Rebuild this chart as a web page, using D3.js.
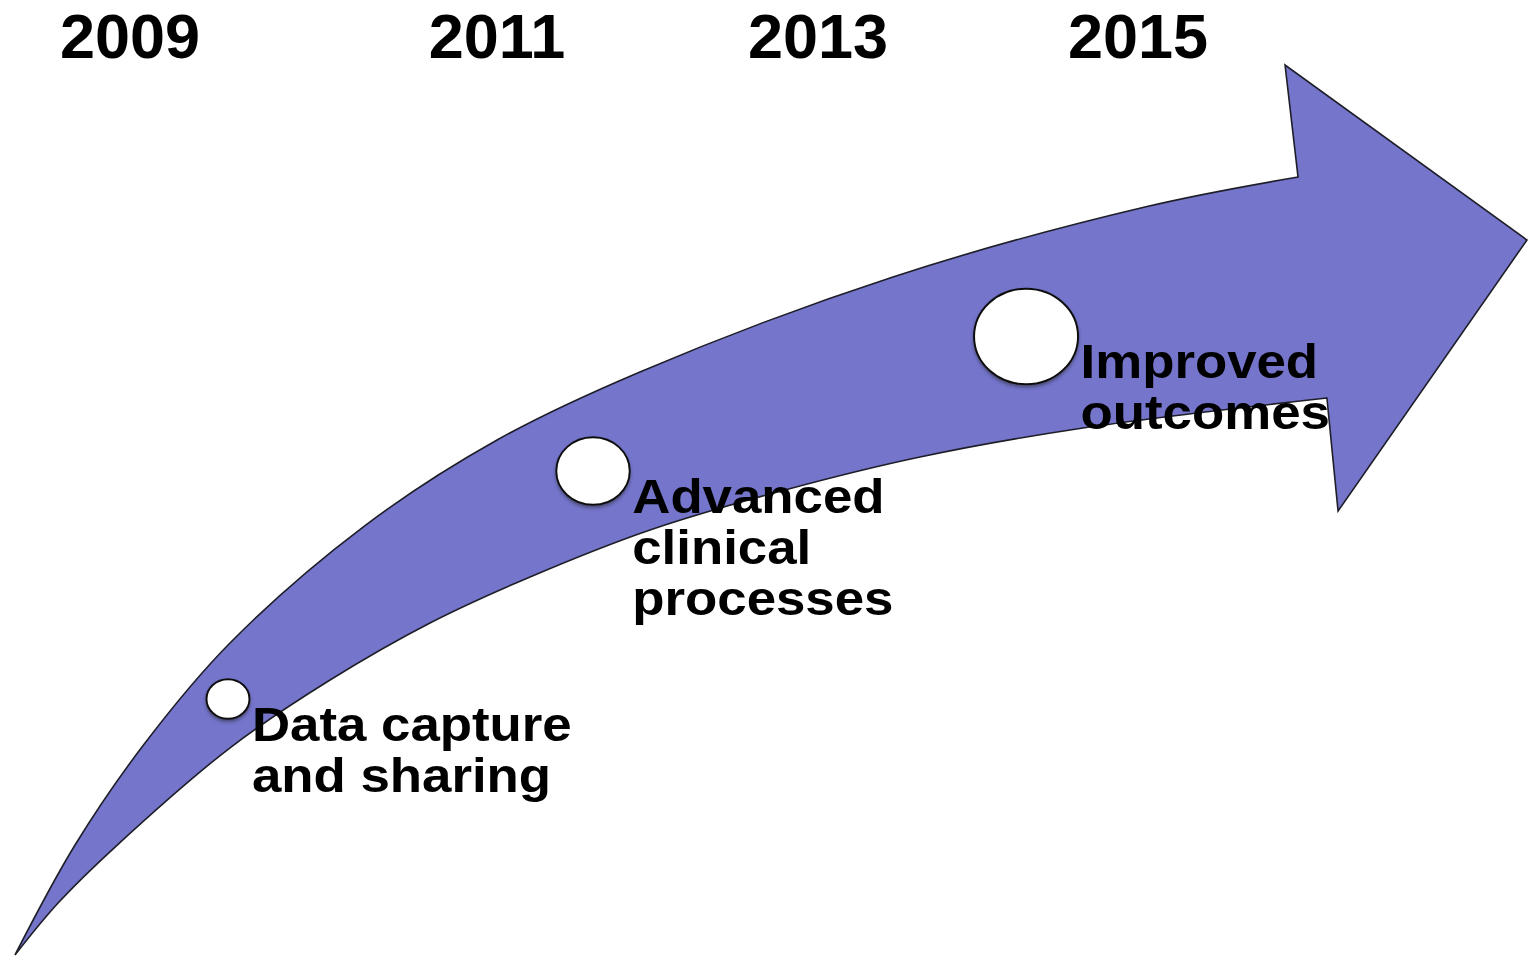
<!DOCTYPE html>
<html>
<head>
<meta charset="utf-8">
<script src="https://cdn.jsdelivr.net/npm/d3@7/dist/d3.min.js"></script>
<style>
  html, body { margin: 0; padding: 0; background: #fff; }
  svg { display: block; }
</style>
</head>
<body>
<svg id="chart" width="1528" height="957"></svg>
<script>
// ---------- data ----------
const years = ["2009", "2011", "2013", "2015"];

// arrow outline in a 0-100 design grid (x: progress, y: maturity)
const arrowUpperX = [0.98, 4.91, 9.49, 15.05, 23.76, 32.53, 41.88, 58.44, 74.93, 84.95];
const arrowUpperY = [0.21, 11.70, 22.36, 32.81, 44.93, 54.02, 61.13, 71.06, 78.37, 81.50];
const arrowLowerX = [0.98, 3.80, 7.53, 15.12, 21.60, 28.14, 34.69, 42.54, 51.37, 60.21, 70.88, 86.84];
const arrowLowerY = [0.21, 5.64, 11.49, 21.94, 28.94, 34.90, 39.71, 44.62, 48.80, 52.25, 55.28, 58.41];
const arrowHeadX = [84.10, 99.93, 87.57];
const arrowHeadY = [93.21, 74.92, 46.60];

// milestones
const milestoneLines = [
  ["Data capture", "and sharing"],
  ["Advanced", "clinical", "processes"],
  ["Improved", "outcomes"]
];
const milestoneX = [14.92, 38.81, 67.15];
const milestoneY = [26.96, 50.78, 64.84];
const milestoneStage = [1, 2, 3];

// ---------- layout ----------
const W = 1528, H = 957;
const svg = d3.select("#chart");

const sx = d3.scaleLinear().domain([0, 100]).range([0, W]);
const sy = d3.scaleLinear().domain([0, 100]).range([H, 0]);
const yearX = d3.scaleOrdinal().domain(years).range([130, 497, 818, 1138]);
const rScale = d3.scaleLinear().domain([1, 3]).range([21.5, 52]);

const defs = svg.append("defs");
const f = defs.append("filter").attr("id", "shadow")
  .attr("x", "-30%").attr("y", "-30%").attr("width", "160%").attr("height", "160%");
f.append("feDropShadow").attr("dx", 0).attr("dy", 2.5).attr("stdDeviation", 1.6)
  .attr("flood-color", "#303040").attr("flood-opacity", 0.55);

// ---------- arrow ----------
const line = d3.line().x(d => sx(d[0])).y(d => sy(d[1])).curve(d3.curveCatmullRom.alpha(0.5));
const upper = arrowUpperX.map((x, i) => [x, arrowUpperY[i]]);
const lower = arrowLowerX.map((x, i) => [x, arrowLowerY[i]]).reverse();
const head = arrowHeadX.map((x, i) => [x, arrowHeadY[i]]);

let d = line(upper);
head.forEach(p => { d += "L" + sx(p[0]) + "," + sy(p[1]); });
d += line(lower).replace(/^M/, "L") + "Z";

svg.append("path")
  .attr("d", d)
  .attr("fill", "#7475CB")
  .attr("stroke", "#1e1e28")
  .attr("stroke-width", 1.6)
  .attr("stroke-linejoin", "miter");

// ---------- milestone circles ----------
const ms = milestoneLines.map((lines, i) => ({
  lines, cx: sx(milestoneX[i]), cy: sy(milestoneY[i]), rx: rScale(milestoneStage[i])
}));

svg.append("g").selectAll("ellipse").data(ms).join("ellipse")
  .attr("cx", m => m.cx).attr("cy", m => m.cy)
  .attr("rx", m => m.rx).attr("ry", m => m.rx * 0.92)
  .attr("fill", "#fff")
  .attr("stroke", "#111")
  .attr("stroke-width", 2)
  .attr("filter", "url(#shadow)");

// ---------- labels ----------
const font = "'Liberation Sans', Arial, Helvetica, sans-serif";
const lg = svg.append("g").selectAll("g").data(ms).join("g")
  .attr("transform", m => `translate(${m.cx + m.rx + 2.5},${m.cy + 42}) scale(1.1,1)`);
lg.append("text")
  .attr("font-family", font)
  .attr("font-weight", "bold")
  .attr("font-size", 48)
  .attr("fill", "#000")
  .selectAll("tspan").data(m => m.lines).join("tspan")
  .attr("x", 0).attr("y", (t, i) => i * 51)
  .text(t => t);

// ---------- years ----------
svg.append("g").selectAll("text").data(years).join("text")
  .attr("x", y => yearX(y))
  .attr("y", 58)
  .attr("text-anchor", "middle")
  .attr("font-family", font)
  .attr("font-weight", "bold")
  .attr("font-size", 63)
  .attr("fill", "#000")
  .text(y => y);
</script>
</body>
</html>
